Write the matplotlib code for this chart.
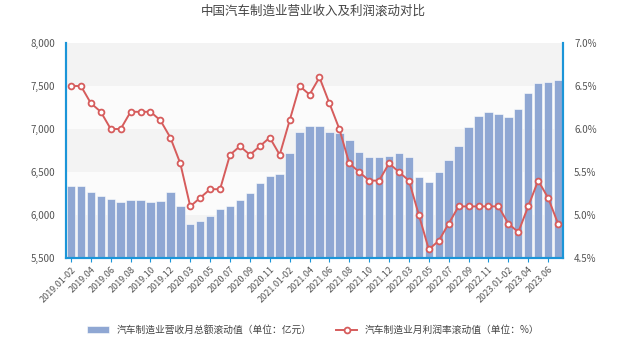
import numpy as np
import matplotlib.pyplot as plt
import matplotlib.ticker as mticker

plt.rcParams['font.family'] = ['Noto Sans CJK SC', 'DejaVu Sans']

months = []
for y in range(2019, 2024):
    months.append('%d.01-02' % y)
    last = 7 if y == 2023 else 12
    for m in range(3, last + 1):
        months.append('%d.%02d' % (y, m))

revenue = [6340, 6340, 6270, 6220, 6190, 6150, 6170, 6170, 6150, 6160,
           6270, 6110, 5900, 5930, 5990, 6070, 6100, 6170, 6260, 6370,
           6450, 6480, 6720, 6970, 7030, 7030, 6970, 6950, 6870, 6730,
           6680, 6670, 6690, 6720, 6670, 6440, 6380, 6500, 6640, 6800,
           7020, 7150, 7200, 7180, 7140, 7230, 7420, 7530, 7545, 7570]

margin = [6.5, 6.5, 6.3, 6.2, 6.0, 6.0, 6.2, 6.2, 6.2, 6.1,
          5.9, 5.6, 5.1, 5.2, 5.3, 5.3, 5.7, 5.8, 5.7, 5.8,
          5.9, 5.7, 6.1, 6.5, 6.4, 6.6, 6.3, 6.0, 5.6, 5.5,
          5.4, 5.4, 5.6, 5.5, 5.4, 5.0, 4.6, 4.7, 4.9, 5.1,
          5.1, 5.1, 5.1, 5.1, 4.9, 4.8, 5.1, 5.4, 5.2, 4.9]

fig = plt.figure(figsize=(6.27, 3.38), dpi=100)
ax = fig.add_axes([66 / 627, 1 - 258 / 338, (563 - 66) / 627, (258 - 43) / 338])
ax2 = ax.twinx()

x = np.arange(len(months))

# alternating split areas
for i, lo in enumerate(range(5500, 8000, 500)):
    c = '#f3f3f3' if i % 2 == 0 else '#fbfbfb'
    ax.axhspan(lo, lo + 500, color=c, zorder=0, lw=0)

ax.bar(x, revenue, width=0.85, color='#8fa7d3', edgecolor='white', linewidth=0.4,
       zorder=2, label='汽车制造业营收月总额滚动值（单位：亿元）')
ax2.plot(x, margin, color='#d65c5c', lw=1.4, marker='o', ms=4.2,
         mfc='white', mec='#d65c5c', mew=1.3, zorder=3,
         label='汽车制造业月利润率滚动值（单位：%）')

ax.set_xlim(-0.5, len(months) - 0.5)
ax.set_ylim(5500, 8000)
ax2.set_ylim(4.5, 7.0)
ax.set_yticks(range(5500, 8001, 500))
ax2.set_yticks(np.arange(4.5, 7.01, 0.5))
ax.yaxis.set_major_formatter(mticker.FuncFormatter(lambda v, p: '{:,.0f}'.format(v)))
ax2.yaxis.set_major_formatter(mticker.FuncFormatter(lambda v, p: '%.1f%%' % v))

ax.set_xticks(x[::2])
ax.set_xticklabels(months[::2], rotation=45, ha='right', rotation_mode='anchor')

blue = '#1b95d8'
for a in (ax, ax2):
    a.spines['top'].set_visible(False)
    a.spines['left'].set_color(blue)
    a.spines['right'].set_color(blue)
    a.spines['bottom'].set_color(blue)
    for s in ('left', 'right', 'bottom'):
        a.spines[s].set_linewidth(1.5)
ax.set_zorder(ax2.get_zorder() - 1)
ax2.patch.set_visible(False)

ax.tick_params(axis='y', length=0, labelsize=7, labelcolor='#555555', pad=8)
ax2.tick_params(axis='y', length=0, labelsize=7, labelcolor='#555555', pad=8)
ax.tick_params(axis='x', length=3, color=blue, labelsize=6.5, labelcolor='#555555', pad=2)

fig.text(0.5, 1 - 11 / 338, '中国汽车制造业营业收入及利润滚动对比', ha='center', va='center',
         fontsize=9, color='#444444')

h1, l1 = ax.get_legend_handles_labels()
h2, l2 = ax2.get_legend_handles_labels()
fig.legend(h1 + h2, l1 + l2, loc='center', bbox_to_anchor=(0.5, 1 - 330 / 338),
           ncol=2, frameon=False, fontsize=7, labelcolor='#444444',
           handlelength=2.2, columnspacing=2.5)

fig.savefig('out.png', dpi=100)
